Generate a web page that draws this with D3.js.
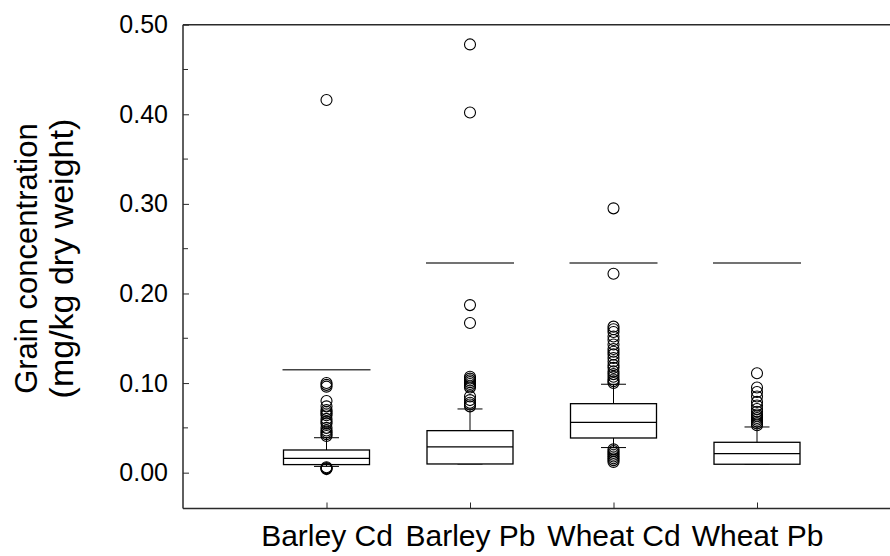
<!DOCTYPE html>
<html>
<head>
<meta charset="utf-8">
<script src="https://cdn.jsdelivr.net/npm/d3@7"></script>
<style>
  html, body { margin: 0; padding: 0; background: #fff; }
  svg { display: block; font-family: "Liberation Sans", Arial, sans-serif; }
</style>
</head>
<body>
<svg id="chart" width="890" height="556"></svg>
<script>
// Grain metal concentrations (mg/kg dry weight)
const categories = ["Barley Cd", "Barley Pb", "Wheat Cd", "Wheat Pb"];
const q1Values = [0.009, 0.0097, 0.0387, 0.0094];
const medianValues = [0.016, 0.0287, 0.0562, 0.0212];
const q3Values = [0.0253, 0.0469, 0.077, 0.0339];
const whiskerLow = [0.007, 0.0097, 0.028, 0.0094];
const whiskerHigh = [0.039, 0.0711, 0.0987, 0.051];
const limitValues = [0.115, 0.234, 0.234, 0.234];
const outliersBarleyCd = [0.416, 0.100, 0.098, 0.096, 0.080, 0.074, 0.070, 0.068, 0.066, 0.064,
  0.060, 0.057, 0.055, 0.050, 0.047, 0.045, 0.043, 0.041, 0.006, 0.005, 0.005, 0.004];
const outliersBarleyPb = [0.478, 0.402, 0.187, 0.167, 0.107, 0.105, 0.103, 0.101, 0.099, 0.097,
  0.095, 0.085, 0.081, 0.078, 0.076, 0.074];
const outliersWheatCd = [0.295, 0.222, 0.163, 0.160, 0.157, 0.152, 0.148, 0.143, 0.138, 0.135,
  0.132, 0.128, 0.124, 0.120, 0.117, 0.113, 0.110, 0.107, 0.104, 0.102, 0.100,
  0.026, 0.024, 0.022, 0.020, 0.018, 0.016, 0.014, 0.012];
const outliersWheatPb = [0.111, 0.095, 0.090, 0.085, 0.079, 0.075, 0.071, 0.068, 0.065, 0.063,
  0.061, 0.059, 0.057, 0.055, 0.053];
const outlierLists = [outliersBarleyCd, outliersBarleyPb, outliersWheatCd, outliersWheatPb];
const yTickValues = [0, 0.1, 0.2, 0.3, 0.4, 0.5];
const yMinorTicks = [0.05, 0.15, 0.25, 0.35, 0.45];

const svg = d3.select("#chart");
const plotLeft = 183, plotRight = 900.5, plotTop = 24.7, plotBottom = 508.5;

const x = d3.scaleLinear().domain([0, categories.length + 1]).range([plotLeft, plotRight]);
const y = d3.scaleLinear().domain([-0.04, 0.5]).range([plotBottom, plotTop]);
const boxW = 86, capW = 25;

// frame: left axis, top and bottom rules
const frame = svg.append("g").attr("stroke", "#2a2a2a").attr("stroke-width", 1.5).attr("fill", "none");
frame.append("line").attr("x1", plotLeft).attr("x2", plotLeft).attr("y1", plotTop).attr("y2", plotBottom);
frame.append("line").attr("x1", plotLeft).attr("x2", plotRight).attr("y1", plotTop).attr("y2", plotTop);
frame.append("line").attr("x1", plotLeft).attr("x2", plotRight).attr("y1", plotBottom).attr("y2", plotBottom);

// y axis: ticks point inward
const yAxis = d3.axisLeft(y).tickValues(yTickValues).tickFormat(d3.format(".2f"))
  .tickSize(-6).tickPadding(15);
const gy = svg.append("g").attr("transform", `translate(${plotLeft},0)`).call(yAxis);
gy.select(".domain").remove();
gy.selectAll(".tick line").attr("stroke", "#2a2a2a");
gy.selectAll("text").attr("font-size", 25).attr("fill", "#000")
  .attr("font-family", "'Liberation Sans', Arial, sans-serif");
svg.append("g").selectAll("line").data(yMinorTicks).join("line")
  .attr("x1", plotLeft).attr("x2", plotLeft + 5)
  .attr("y1", d => y(d)).attr("y2", d => y(d))
  .attr("stroke", "#2a2a2a");

// x axis: ticks point upward at each category
const xAxis = d3.axisBottom(x).tickValues(d3.range(1, categories.length + 1))
  .tickFormat(i => categories[i - 1]).tickSize(-6).tickPadding(16);
const gx = svg.append("g").attr("transform", `translate(0,${plotBottom})`).call(xAxis);
gx.select(".domain").remove();
gx.selectAll(".tick line").attr("stroke", "#2a2a2a");
gx.selectAll("text").attr("font-size", 30).attr("fill", "#000")
  .attr("font-family", "'Liberation Sans', Arial, sans-serif");

// y axis title (two lines)
const title = svg.append("text")
  .attr("transform", `translate(37,${(plotTop + plotBottom) / 2 - 8}) rotate(-90)`)
  .attr("text-anchor", "middle").attr("fill", "#000");
title.append("tspan").attr("x", 0).attr("dy", 0).attr("font-size", 31).text("Grain concentration");
title.append("tspan").attr("x", 0).attr("dy", 36).attr("font-size", 34).text("(mg/kg dry weight)");

// limit lines
svg.append("g").selectAll("line").data(limitValues).join("line")
  .attr("x1", (d, i) => x(i + 1) - boxW / 2 - 1).attr("x2", (d, i) => x(i + 1) + boxW / 2 + 1)
  .attr("y1", d => y(d)).attr("y2", d => y(d))
  .attr("stroke", "#444").attr("stroke-width", 1.5);

// box plots
const boxes = svg.append("g").selectAll("g").data(categories).join("g");
boxes.append("line")
  .attr("x1", (d, i) => x(i + 1)).attr("x2", (d, i) => x(i + 1))
  .attr("y1", (d, i) => y(q3Values[i])).attr("y2", (d, i) => y(whiskerHigh[i]))
  .attr("stroke", "#000");
boxes.append("line")
  .attr("x1", (d, i) => x(i + 1)).attr("x2", (d, i) => x(i + 1))
  .attr("y1", (d, i) => y(q1Values[i])).attr("y2", (d, i) => y(whiskerLow[i]))
  .attr("stroke", "#000");
boxes.append("line")
  .attr("x1", (d, i) => x(i + 1) - capW / 2).attr("x2", (d, i) => x(i + 1) + capW / 2)
  .attr("y1", (d, i) => y(whiskerHigh[i])).attr("y2", (d, i) => y(whiskerHigh[i]))
  .attr("stroke", "#000");
boxes.append("line")
  .attr("x1", (d, i) => x(i + 1) - capW / 2).attr("x2", (d, i) => x(i + 1) + capW / 2)
  .attr("y1", (d, i) => y(whiskerLow[i])).attr("y2", (d, i) => y(whiskerLow[i]))
  .attr("stroke", "#000");
boxes.append("rect")
  .attr("x", (d, i) => x(i + 1) - boxW / 2).attr("width", boxW)
  .attr("y", (d, i) => y(q3Values[i]))
  .attr("height", (d, i) => y(q1Values[i]) - y(q3Values[i]))
  .attr("fill", "#fff").attr("stroke", "#000").attr("stroke-width", 1.3);
boxes.append("line")
  .attr("x1", (d, i) => x(i + 1) - boxW / 2).attr("x2", (d, i) => x(i + 1) + boxW / 2)
  .attr("y1", (d, i) => y(medianValues[i])).attr("y2", (d, i) => y(medianValues[i]))
  .attr("stroke", "#000").attr("stroke-width", 1.3);

// outliers
boxes.each(function (d, i) {
  d3.select(this).selectAll("circle").data(outlierLists[i]).join("circle")
    .attr("cx", x(i + 1)).attr("cy", v => y(v)).attr("r", 5.5)
    .attr("fill", "none").attr("stroke", "#000").attr("stroke-width", 1.1);
});
</script>
</body>
</html>
